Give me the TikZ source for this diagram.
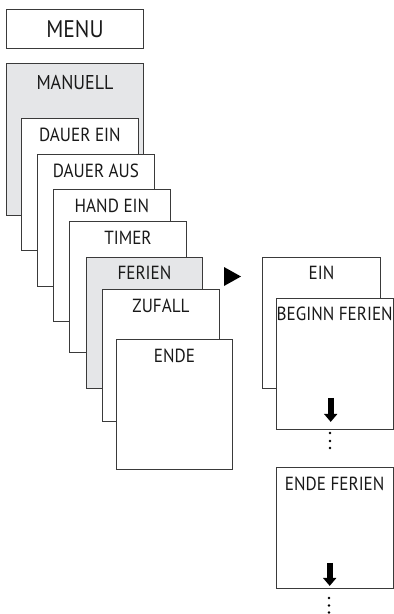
\documentclass[tikz,border=0pt]{standalone}
\usepackage{fontspec}
\setmainfont[FakeStretch=0.9]{PT Sans}
\usepackage{tikz}
\usetikzlibrary{arrows.meta,calc,positioning}
\definecolor{boxline}{HTML}{3A3A3A}
\definecolor{boxgray}{HTML}{E5E6E8}

\begin{document}
\begin{tikzpicture}[x=1pt, y=-1pt]
	\tikzset{menubox/.style = {draw = boxline, line width = 0.9pt, fill = white, anchor = north west, inner sep = 0pt, minimum width = 117pt, minimum height = 132pt},
	graybox/.style = {menubox, fill = boxgray},
	lbl/.style = {font = \fontsize{19}{22}\selectfont, inner sep = 0pt, text = black!90},
	downarr/.style = {line width = 6pt, -{Triangle[width = 13pt, length = 8pt]}},
	dot/.style = {circle, fill = black, inner sep = 0pt, minimum size = 2.8pt}}
\useasboundingbox (0, 0) rectangle (393.5, 614);
% left column
\node[menubox, minimum width = 137pt, minimum height = 39pt] (menu) at (6, 9) {};
\node[graybox, minimum width = 137pt, minimum height = 152pt] (0) at (6, 63) {};
\node[menubox] (1) at (21, 118) {};
\node[menubox] (2) at (37, 154) {};
\node[menubox] (3) at (53, 189) {};
\node[menubox, minimum height = 131pt] (4) at (69, 221) {};
\node[graybox, minimum width = 116pt, minimum height = 131pt] (5) at (86, 257) {};
\node[menubox] (6) at (102, 289) {};
\node[menubox, minimum width = 116pt, minimum height = 130pt] (7) at (116, 339) {};
\node[lbl, font = \fontsize{24}{28}\selectfont] (tmenu) at (menu.center) {MENU};
\node[lbl, font = \fontsize{20}{24}\selectfont] (t0) at ([yshift = -19pt]0.north) {MANUELL};
\node[lbl] (t1) at ([yshift = -16.5pt]1.north) {DAUER EIN};
\node[lbl] (t2) at ([yshift = -16.5pt]2.north) {DAUER AUS};
\node[lbl] (t3) at ([yshift = -16.5pt]3.north) {HAND EIN};
\node[lbl] (t4) at ([yshift = -16.5pt]4.north) {TIMER};
\node[lbl] (t5) at ([yshift = -16pt]5.north) {FERIEN};
\node[lbl] (t6) at ([yshift = -17pt]6.north) {ZUFALL};
\node[lbl] (t7) at ([yshift = -17pt]7.north) {ENDE};
% pointer
\fill[black] (224, 267) -- (241, 276.5) -- (224, 286) -- cycle;
% right column
\node[menubox, minimum width = 118pt, minimum height = 131pt] (8) at (262, 257) {};
\node[menubox, minimum width = 116.5pt, minimum height = 131pt] (9) at (276, 298) {};
\node[menubox, minimum width = 116.5pt, minimum height = 121pt] (10) at (276, 467) {};
\node[lbl] (t8) at ([yshift = -16pt]8.north) {EIN};
\node[lbl] (t9) at ([yshift = -16pt]9.north) {BEGINN FERIEN};
\node[lbl] (t10) at ([yshift = -16.7pt]10.north) {ENDE FERIEN};
\draw[downarr] ([xshift = -4pt, yshift = 32pt]9.south) -- ([xshift = -4pt, yshift = 8pt]9.south);
\draw[downarr] ([xshift = -5pt, yshift = 26pt]10.south) -- ([xshift = -5pt, yshift = 3pt]10.south);
\node[dot] (d1) at (330, 433) {};
\node[dot] (d2) at (330, 441) {};
\node[dot] (d3) at (330, 448) {};
\node[dot] (d4) at (329, 598) {};
\node[dot] (d5) at (329, 605.5) {};
\node[dot] (d6) at (329, 612.5) {};
	\end{tikzpicture}
\end{document}
